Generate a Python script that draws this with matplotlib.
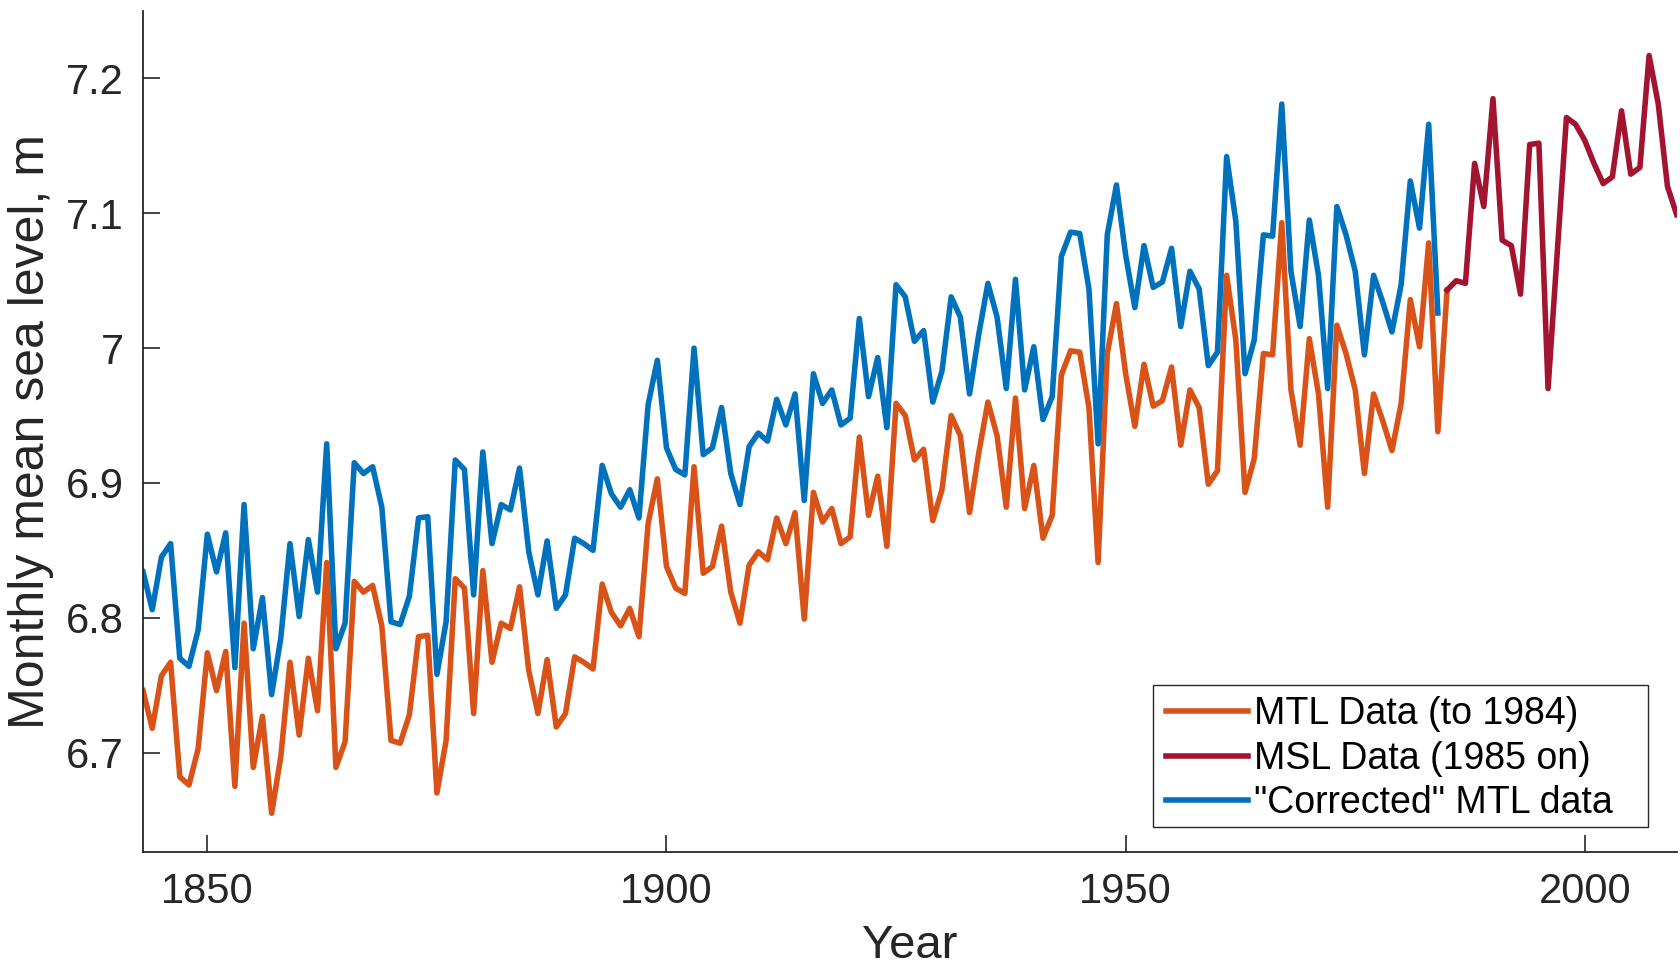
import numpy as np
import matplotlib
matplotlib.use("Agg")
from matplotlib import pyplot as plt
from matplotlib.ticker import FuncFormatter
from matplotlib.patches import Rectangle

plt.rcParams['font.family'] = ['Liberation Sans', 'DejaVu Sans']

# MTL data, 1843-1985 (last point joins the MSL record)
mtl_years = np.arange(1843, 1986)
mtl = [6.746, 6.718, 6.757, 6.767, 6.682, 6.676, 6.703, 6.774, 6.746, 6.775,
       6.675, 6.796, 6.689, 6.727, 6.655, 6.697, 6.767, 6.713, 6.770, 6.731,
       6.841, 6.689, 6.708, 6.827, 6.819, 6.824, 6.794, 6.709, 6.707, 6.728,
       6.786, 6.787, 6.670, 6.709, 6.829, 6.822, 6.729, 6.835, 6.767, 6.796,
       6.792, 6.823, 6.761, 6.729, 6.769, 6.719, 6.729, 6.771, 6.767, 6.762,
       6.825, 6.804, 6.794, 6.807, 6.786, 6.870, 6.903, 6.838, 6.822, 6.818,
       6.912, 6.833, 6.838, 6.868, 6.819, 6.796, 6.839, 6.849, 6.843, 6.874,
       6.855, 6.878, 6.799, 6.893, 6.871, 6.881, 6.855, 6.860, 6.934, 6.876,
       6.905, 6.853, 6.959, 6.950, 6.917, 6.925, 6.872, 6.895, 6.950, 6.935,
       6.878, 6.922, 6.960, 6.935, 6.882, 6.963, 6.881, 6.913, 6.859, 6.876,
       6.980, 6.998, 6.997, 6.956, 6.841, 6.996, 7.033, 6.981, 6.942, 6.988,
       6.957, 6.961, 6.986, 6.928, 6.969, 6.956, 6.899, 6.909, 7.054, 7.006,
       6.893, 6.918, 6.996, 6.995, 7.093, 6.969, 6.928, 7.007, 6.966, 6.882,
       7.017, 6.996, 6.969, 6.907, 6.966, 6.946, 6.924, 6.959, 7.036, 7.001,
       7.078, 6.938, 7.043]

# MSL data, 1985-2010
msl_years = np.arange(1985, 2011)
msl = [7.043, 7.050, 7.048, 7.137, 7.105, 7.185, 7.080, 7.076, 7.040, 7.151,
       7.152, 6.970, 7.071, 7.171, 7.166, 7.154, 7.137, 7.122, 7.127, 7.176,
       7.129, 7.134, 7.217, 7.181, 7.120, 7.099]

# "corrected" MTL, 1843-1984
corr_years = np.arange(1843, 1985)
corrected = [6.834, 6.806, 6.845, 6.855, 6.770, 6.764, 6.791, 6.862, 6.834, 6.863,
             6.763, 6.884, 6.777, 6.815, 6.743, 6.785, 6.855, 6.801, 6.858, 6.819,
             6.929, 6.777, 6.796, 6.915, 6.907, 6.912, 6.882, 6.797, 6.795, 6.816,
             6.874, 6.875, 6.758, 6.797, 6.917, 6.910, 6.817, 6.923, 6.855, 6.884,
             6.880, 6.911, 6.849, 6.817, 6.857, 6.807, 6.817, 6.859, 6.855, 6.850,
             6.913, 6.892, 6.882, 6.895, 6.874, 6.958, 6.991, 6.926, 6.910, 6.906,
             7.000, 6.921, 6.926, 6.956, 6.907, 6.884, 6.927, 6.937, 6.931, 6.962,
             6.943, 6.966, 6.887, 6.981, 6.959, 6.969, 6.943, 6.948, 7.022, 6.964,
             6.993, 6.941, 7.047, 7.038, 7.005, 7.013, 6.960, 6.983, 7.038, 7.023,
             6.966, 7.010, 7.048, 7.023, 6.970, 7.051, 6.969, 7.001, 6.947, 6.964,
             7.068, 7.086, 7.085, 7.044, 6.929, 7.084, 7.121, 7.069, 7.030, 7.076,
             7.045, 7.049, 7.074, 7.016, 7.057, 7.044, 6.987, 6.997, 7.142, 7.094,
             6.981, 7.006, 7.084, 7.083, 7.181, 7.057, 7.016, 7.095, 7.054, 6.970,
             7.105, 7.084, 7.057, 6.995, 7.054, 7.034, 7.012, 7.047, 7.124, 7.089,
             7.166, 7.026]

labels = ['MTL Data (to 1984)', 'MSL Data (1985 on)', '"Corrected" MTL data']
y_ticks = [6.7, 6.8, 6.9, 7.0, 7.1, 7.2]
x_ticks = [1850, 1900, 1950, 2000]

fig = plt.figure(figsize=(16.81, 9.66), dpi=100)
ax = fig.add_axes([0.0851, 0.1176, 0.9123, 0.871])

lw = 4.0
l1, = ax.plot(mtl_years, mtl, color='#D95319', lw=lw)
l2, = ax.plot(msl_years, msl, color='#A2142F', lw=lw)
l3, = ax.plot(corr_years, corrected, color='#0072BD', lw=lw)

ax.set_xlim(1843, 2010)
ax.set_ylim(6.626, 7.25)
ax.set_xticks(x_ticks)
ax.set_yticks(y_ticks)
ax.yaxis.set_major_formatter(FuncFormatter(lambda v, p: '%g' % v))

for s in ['top', 'right']:
    ax.spines[s].set_visible(False)
for s in ['left', 'bottom']:
    ax.spines[s].set_color('#262626')
    ax.spines[s].set_linewidth(1.3)
ax.tick_params(direction='in', length=12, width=1.2, color='#262626',
               labelsize=30, labelcolor='#262626', pad=14)

ax.set_xlabel('Year', fontsize=34, color='#262626', labelpad=9)
ax.set_ylabel('Monthly mean sea level, m', fontsize=36, color='#262626', labelpad=8)

# legend without frame, box drawn separately (matlab style, extra room on right)
leg = ax.legend([l1, l2, l3], labels, loc='upper left',
                bbox_to_anchor=(1166 / 1681, 1 - 696 / 966),
                bbox_transform=fig.transFigure, borderaxespad=0,
                fontsize=27, handlelength=2.2, handletextpad=0.15,
                labelspacing=0.23, borderpad=0.0, frameon=False)
for h in leg.legend_handles:
    h.set_linewidth(lw)

box = Rectangle((1153 / 1681, 1 - 827 / 966), (1648 - 1153) / 1681, (827 - 685) / 966,
                transform=fig.transFigure, fill=True, facecolor='white',
                edgecolor='#262626', lw=1.0, zorder=4)
fig.add_artist(box)
leg.set_zorder(5)
fig.add_artist(leg)

fig.savefig('out.png', dpi=100)
